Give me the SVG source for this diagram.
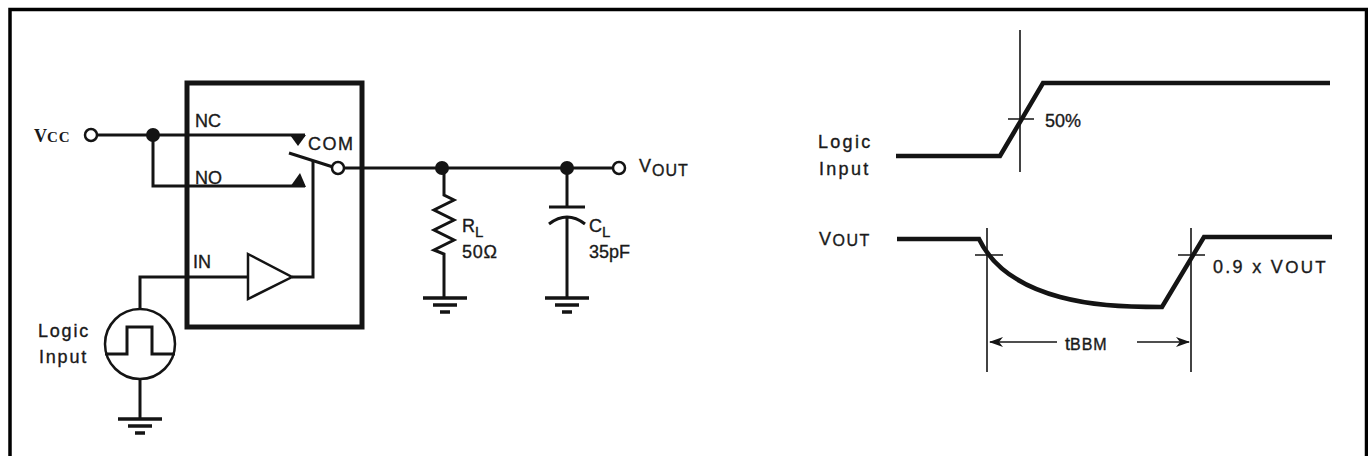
<svg xmlns="http://www.w3.org/2000/svg" width="1368" height="456" viewBox="0 0 1368 456">
<style>
.w{fill:none;stroke:#141414;stroke-width:3;stroke-linecap:butt;stroke-linejoin:miter}
.g{fill:none;stroke:#141414;stroke-width:3.5}
.box{fill:none;stroke:#141414;stroke-width:5}
.wave{fill:none;stroke:#141414;stroke-width:4.5;stroke-linejoin:miter}
.thin{fill:none;stroke:#141414;stroke-width:1.6}
.dot{fill:#141414}
.term{fill:#fff;stroke:#141414;stroke-width:2.5}
.fillk{fill:#141414;stroke:none}
text{font-family:"Liberation Sans",Arial,sans-serif;fill:#1a1a1a;font-size:18px;stroke:#1a1a1a;stroke-width:0.35}
.serif{font-family:"Liberation Serif","Times New Roman",serif;font-weight:bold;stroke-width:0}
</style>
<defs>
<marker id="ah" viewBox="0 0 14 10" refX="13" refY="5" markerWidth="14" markerHeight="10" markerUnits="userSpaceOnUse" orient="auto">
<path d="M0,0 L14,5 L0,10 L4,5 Z" fill="#141414"/>
</marker>
<g id="gnd"><path class="g" d="M-22,0 H22 M-12,7 H12 M-5,14 H5"/></g>
</defs>
<rect width="1368" height="456" fill="#fff"/>
<path d="M10,456 V9.5 H1366.5 V456" fill="none" stroke="#000" stroke-width="3.5"/>

<g id="connectors">
<path class="w" d="M97,135 H305"/>
<path class="w" d="M153,135 V186 H305"/>
<path class="w" d="M289,153 L333,167"/>
<path class="w" d="M313,161 V277 H292"/>
<path class="w" d="M140,380 V419"/>
<path class="w" d="M248,277 H140 V309"/>
<path class="w" d="M344,168 H613"/>
<path class="w" d="M444,168 V195 L454,200 L434,210 L454,220 L434,230 L454,240 L434,250 L444,254 V298"/>
<path class="w" d="M567,168 V207 M549,207 H585 M549,224 Q567,210 585,224 M567,217 V298"/>
</g>

<g id="switch-box">
<rect class="box" x="187" y="83" width="175" height="244"/>
<path class="fillk" d="M290,135 H306 L298,146 Z"/>
<path class="fillk" d="M290,187 H306 L300,173 Z"/>
<text x="195" y="127">NC</text>
<text x="195" y="184">NO</text>
<text x="308" y="150" letter-spacing="1.5">COM</text>
<text x="193" y="268">IN</text>
<circle class="term" cx="338" cy="168" r="6"/>
</g>

<g id="buffer">
<path d="M248,254 L292,277 L248,299 Z" fill="#fff" stroke="#141414" stroke-width="2.5"/>
</g>

<g id="vcc">
<text class="serif" x="34" y="142" font-size="23">V<tspan font-size="15" letter-spacing="1">CC</tspan></text>
<circle class="term" cx="91" cy="135" r="6"/>
<circle class="dot" cx="153" cy="135" r="7"/>
</g>

<g id="logic-source">
<circle cx="140" cy="344" r="35" fill="#fff" stroke="#141414" stroke-width="2.5"/>
<path class="w" stroke-width="2.5" d="M105,354 H127 V327 H152 V354 H175"/>
<text x="38" y="337" letter-spacing="1.8">Logic</text>
<text x="39" y="363" letter-spacing="1.8">Input</text>
<use href="#gnd" x="140" y="419"/>
</g>

<g id="RL">
<circle class="dot" cx="442" cy="168" r="7"/>
<text x="462" y="232">R<tspan font-size="15" dy="5">L</tspan></text>
<text x="462" y="258" letter-spacing="0.8">50Ω</text>
<use href="#gnd" x="445" y="298"/>
</g>

<g id="CL">
<circle class="dot" cx="567" cy="168" r="7"/>
<text x="589" y="232">C<tspan font-size="15" dy="5">L</tspan></text>
<text x="589" y="258">35pF</text>
<use href="#gnd" x="567" y="298"/>
</g>

<g id="vout">
<circle class="term" cx="619" cy="168" r="6"/>
<text x="639" y="172" font-size="20" letter-spacing="1">V<tspan font-size="16" dy="4">OUT</tspan></text>
</g>

<g id="logic-wave">
<text x="818" y="148" font-size="19" letter-spacing="2.3">Logic</text>
<text x="819" y="175" font-size="19" letter-spacing="2.3">Input</text>
<path class="wave" d="M896,156 H1000 L1043,83 H1330"/>
<path class="thin" d="M1020,30 V172 M1008,119 H1034"/>
<text x="1045" y="127" font-size="16">50%</text>
</g>

<g id="vout-wave">
<text x="819" y="245" font-size="20" letter-spacing="1.5">V<tspan font-size="16" dy="1">OUT</tspan></text>
<path class="wave" d="M897,239 H979 C990,262 1012,284 1060,297 C1090,305 1120,307 1162,307 L1204,237 H1332"/>
<path class="thin" d="M987,228 V372 M1191,228 V372 M975,255 H1003 M1178,255 H1205"/>
<text x="1213" y="273" font-size="20" letter-spacing="2.3">0.9 x V<tspan font-size="17">OUT</tspan></text>
<path class="thin" d="M1057,342 H990" marker-end="url(#ah)"/>
<path class="thin" d="M1137,342 H1189" marker-end="url(#ah)"/>
<text x="1065" y="350" font-size="21">t<tspan font-size="16" letter-spacing="1">BBM</tspan></text>
</g>
</svg>
